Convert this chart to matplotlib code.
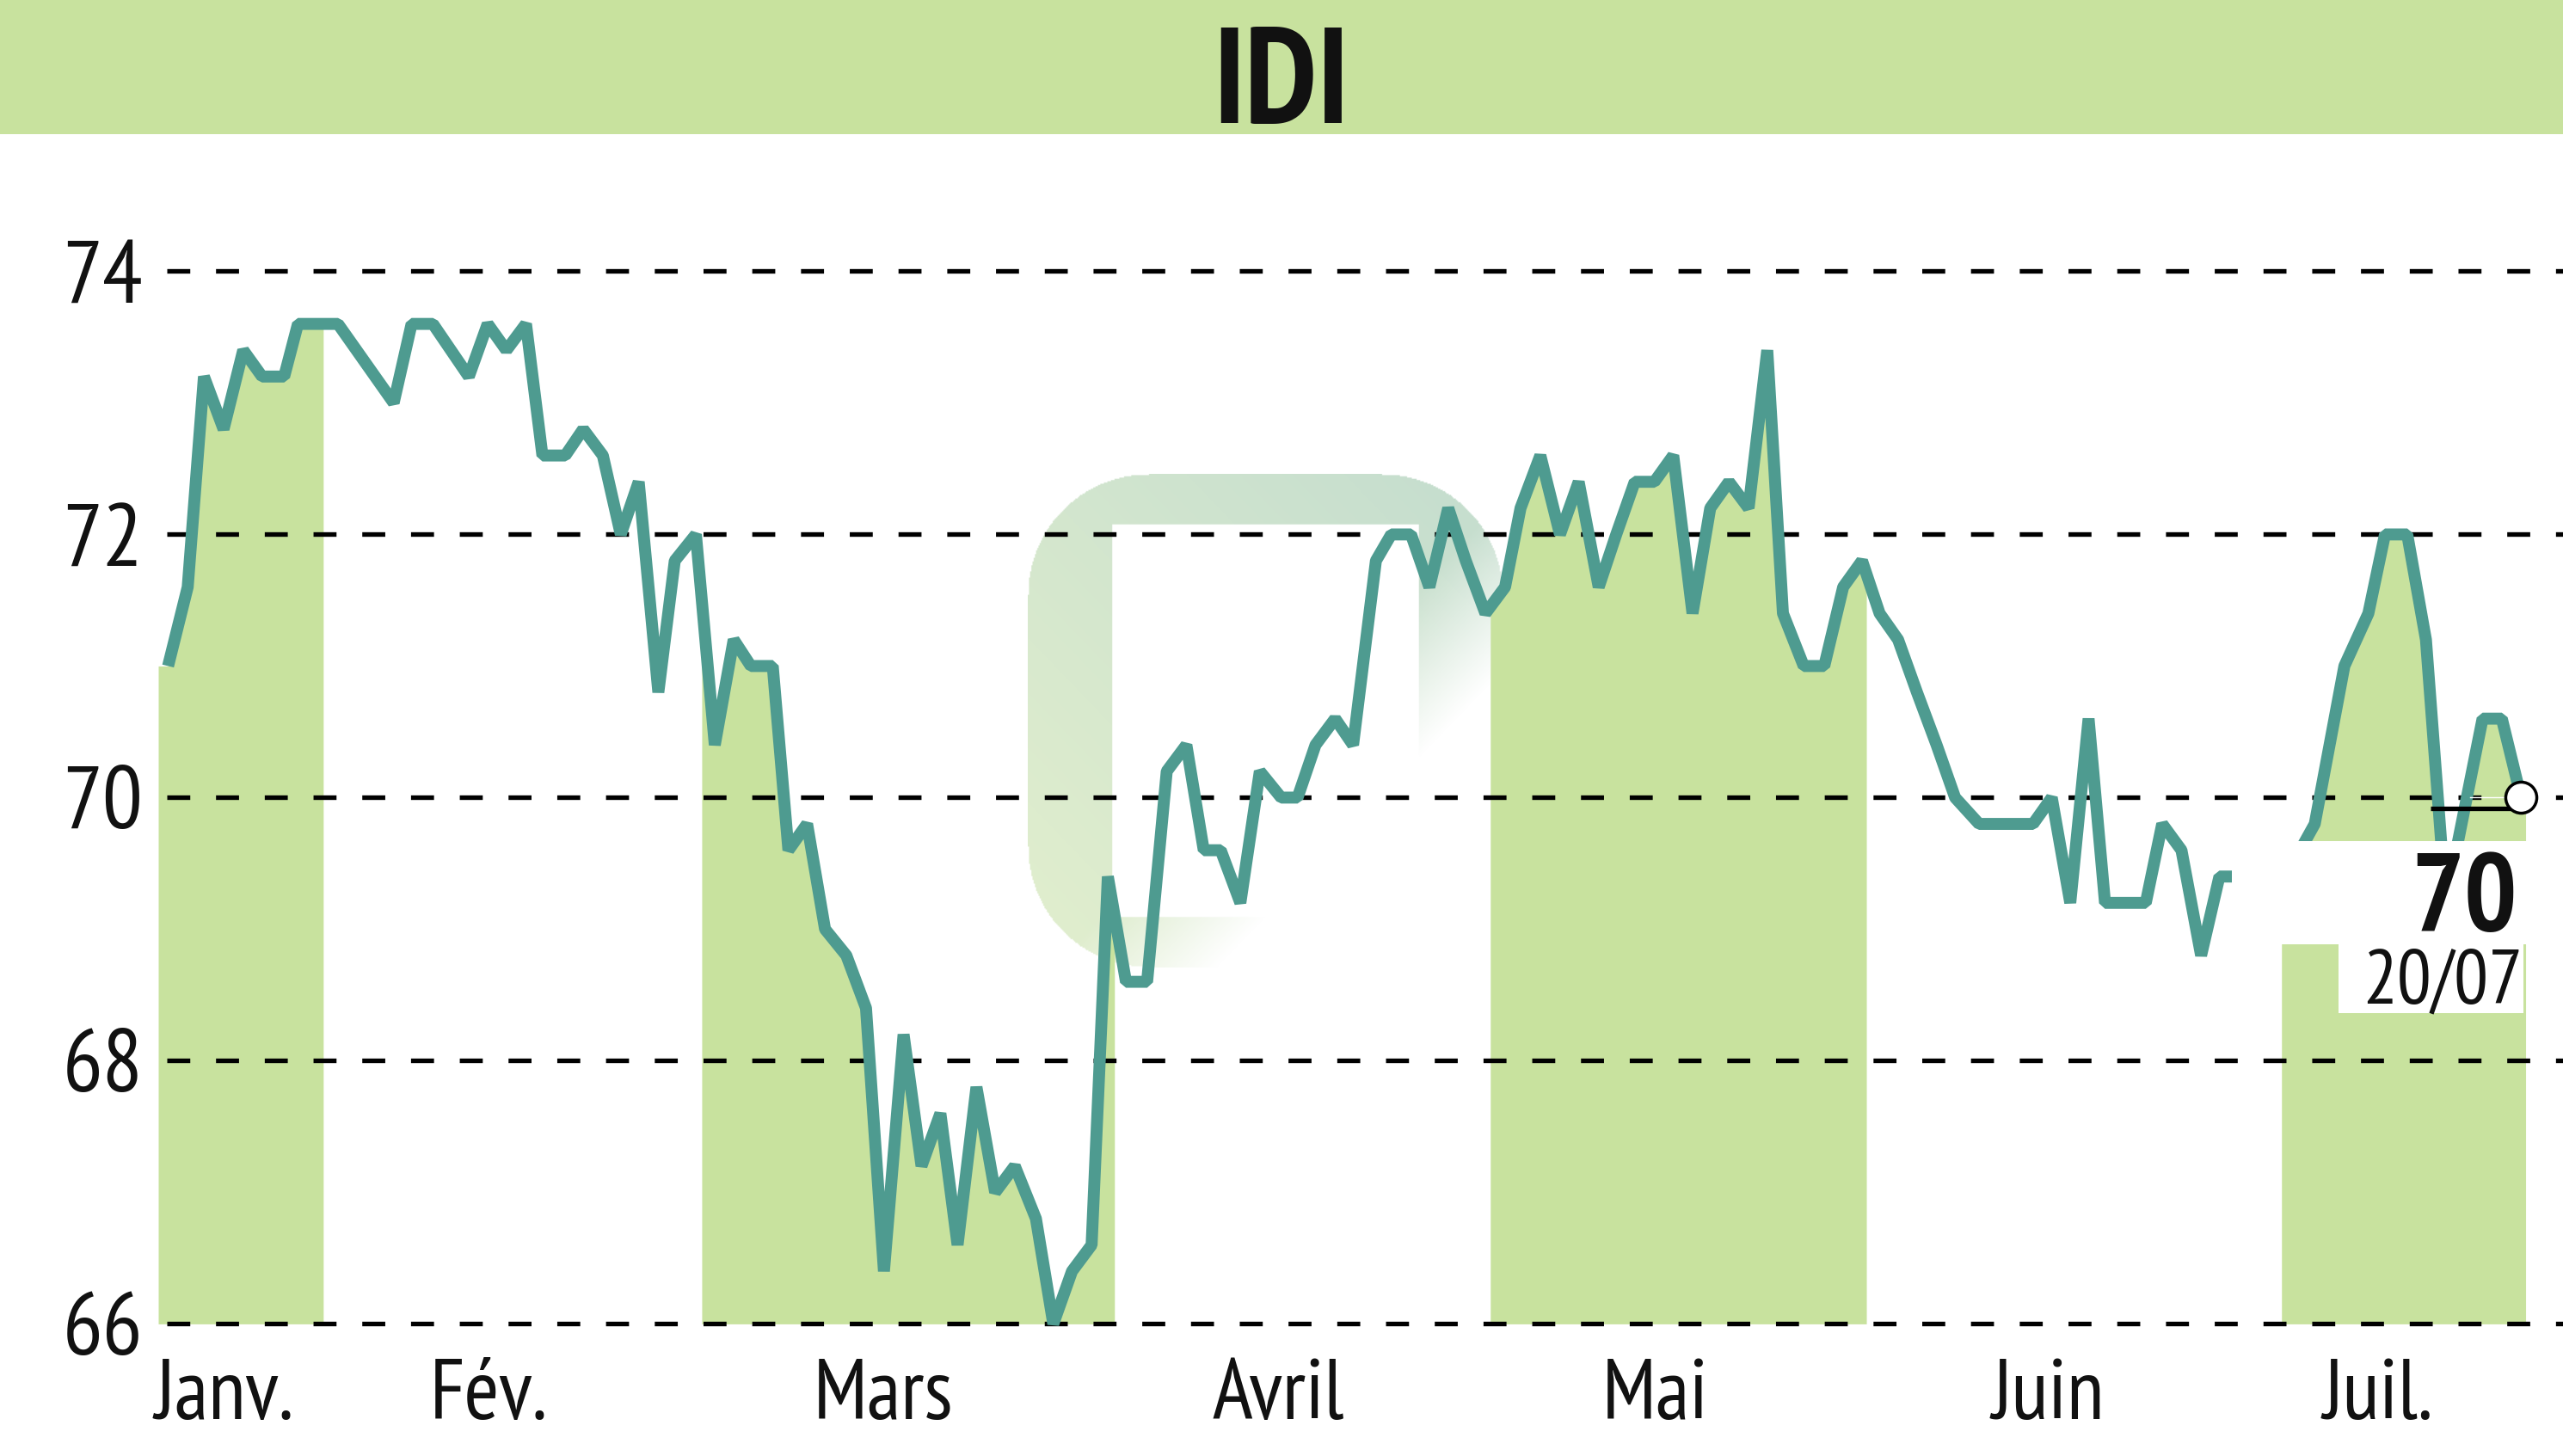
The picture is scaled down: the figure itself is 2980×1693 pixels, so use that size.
import numpy as np
import matplotlib
matplotlib.use("Agg")
import matplotlib.pyplot as plt
from matplotlib.patches import Rectangle
from matplotlib.colors import to_rgb
from matplotlib.transforms import blended_transform_factory as blend

plt.rcParams["font.family"] = ["PT Sans Narrow", "DejaVu Sans"]

# ---- data: trading-session position and closing price
SESSION = [0.52, 1.56, 2.42, 3.46, 4.50, 5.50, 6.67, 7.40, 9.52, 12.47, 13.42, 14.55,
           16.45, 17.45, 18.44, 19.48, 20.35, 21.56, 22.51, 23.55, 24.50, 25.45,
           26.49, 27.36, 28.48, 29.48, 30.48, 31.39, 32.55, 33.38, 34.37, 35.32,
           36.45, 37.49, 38.44, 39.48, 40.43, 41.43, 42.34, 43.34, 44.33, 45.37,
           46.49, 47.41, 48.40, 49.44, 50.30, 51.26, 52.38, 53.42, 54.46, 55.38,
           56.28, 57.32, 58.35, 59.48, 60.35, 61.30, 62.34, 63.29, 64.50, 65.31,
           66.36, 67.33, 68.33, 69.26, 70.30, 71.34, 72.16, 73.21, 74.25, 75.24,
           76.30, 77.23, 78.21, 79.25, 80.25, 81.27, 82.21, 83.20, 84.24, 85.23,
           86.06, 87.16, 88.25, 89.25, 90.25, 91.18, 92.16, 93.16, 94.20, 95.18,
           96.45, 97.40, 98.35, 99.31, 100.30, 101.28, 102.25, 103.12, 104.16, 105.28,
           106.15, 107.17, 108.21, 109.18, 110.20, 111.35, 112.30, 113.07, 114.23, 115.80,
           117.07, 117.95, 119.13, 120.12, 121.17, 123.12, 124.14, 125.16]
PRICE = [71.0, 71.6, 73.2, 72.8, 73.4, 73.2, 73.2, 73.6, 73.6, 73.0, 73.6, 73.6,
         73.2, 73.6, 73.4, 73.6, 72.6, 72.6, 72.8, 72.6, 72.0, 72.4,
         70.8, 71.8, 72.0, 70.4, 71.2, 71.0, 71.0, 69.6, 69.8, 69.0,
         68.8, 68.4, 66.4, 68.2, 67.2, 67.6, 66.6, 67.8, 67.0, 67.2,
         66.8, 66.0, 66.4, 66.6, 69.4, 68.6, 68.6, 70.2, 70.4, 69.6,
         69.6, 69.2, 70.2, 70.0, 70.0, 70.4, 70.6, 70.4, 71.8, 72.0,
         72.0, 71.6, 72.2, 71.8, 71.4, 71.6, 72.2, 72.6, 72.0, 72.4,
         71.6, 72.0, 72.4, 72.4, 72.6, 71.4, 72.2, 72.4, 72.2, 73.4,
         71.4, 71.0, 71.0, 71.6, 71.8, 71.4, 71.2, 70.8, 70.4, 70.0,
         69.8, 69.8, 69.8, 69.8, 70.0, 69.2, 70.6, 69.2, 69.2, 69.2,
         69.8, 69.6, 68.8, 69.4, 69.4, 69.2, 69.3, 69.5, 69.8, 71.0,
         71.4, 72.0, 72.0, 71.2, 69.2, 70.6, 70.6, 70.0]

MONTHS = ["Janv.", "Fév.", "Mars", "Avril", "Mai", "Juin", "Juil."]
MONTH_EDGES = [0, 8.74, 28.79, 50.65, 70.56, 90.48, 112.47, 125.4]
MONTH_LABEL_AT = [3.5, 17.5, 38.4, 59.35, 79.3, 100.1, 117.6]
YTICKS = [66, 68, 70, 72, 74]
TITLE = "IDI"
LAST_VALUE = "70"
LAST_DATE = "20/07"

GREEN = "#c8e29e"
TEAL = "#4e9b90"
INK = "#111111"

W_PX, H_PX = 2980, 1693
fig = plt.figure(figsize=(W_PX / 100, H_PX / 100), dpi=100)

# title band
band_h = 156 / H_PX
fig.add_artist(Rectangle((0, 1 - band_h), 1, band_h, transform=fig.transFigure,
                         fc=GREEN, ec="none"))
fig.text(0.5, 1 - 143 / H_PX, TITLE, ha="center", va="baseline",
         fontsize=113, fontweight="bold", color=INK)

# plot area (pixel frame of the reference)
AX_L, AX_R, AX_T, AX_B = 184, 2980, 160, 1570
ax = fig.add_axes([AX_L / W_PX, 1 - AX_B / H_PX, (AX_R - AX_L) / W_PX, (AX_B - AX_T) / H_PX])
ax.set_facecolor("white")

# faint watermark logo (rounded frame fading toward bottom-right)
LX0, LX1, LY0, LY1, LR = 1195, 1748, 551, 1125, 140
gx = np.linspace(LX0, LX1, 400)
gy = np.linspace(LY0, LY1, 400)
GX, GY = np.meshgrid(gx, gy)
dx = np.maximum(np.maximum(LX0 + LR - GX, GX - (LX1 - LR)), 0)
dy = np.maximum(np.maximum(LY0 + LR - GY, GY - (LY1 - LR)), 0)
outer = dx ** 2 + dy ** 2 <= LR ** 2
inner = (GX > 1293) & (GX < 1650) & (GY > 609) & (GY < 1067)
u = (GX - LX0) / (LX1 - LX0)
v = (GY - LY0) / (LY1 - LY0)
alpha = np.clip((1.4 - (u + v)) / 0.35, 0, 1) * (outer & ~inner)
t = np.clip((u - v + 1) / 2, 0, 1)[..., None]
c_tr, c_bl = np.array(to_rgb("#c4ddcf")), np.array(to_rgb("#e2efcd"))
img = np.dstack([c_bl + (c_tr - c_bl) * t, alpha])
fx = lambda X: (X - AX_L) / (AX_R - AX_L)
fy = lambda Y: (AX_B - Y) / (AX_B - AX_T)
ax.imshow(img, extent=[fx(LX0), fx(LX1), fy(LY1), fy(LY0)], transform=ax.transAxes,
          origin="upper", aspect="auto", interpolation="bilinear", zorder=1)

x = np.array(SESSION)
y = np.array(PRICE)

# shaded months (every other month), filled under the curve
for i in range(0, len(MONTHS), 2):
    a, b = MONTH_EDGES[i], MONTH_EDGES[i + 1]
    inside = (x > a) & (x < b)
    xs = np.concatenate([[a], x[inside], [b]])
    ax.fill_between(xs, np.interp(xs, x, y), YTICKS[0], color=GREEN, lw=0, zorder=2)

# dashed grid
ax.hlines(YTICKS, 0.45, 127.4, colors="black", lw=3.85,
          linestyles=[(0, (5.0, 5.6))], zorder=3)

# price line
ax.plot(x, y, color=TEAL, lw=10, solid_joinstyle="bevel", solid_capstyle="butt", zorder=4)

# label backgrounds
ax.add_patch(Rectangle((109.82, 68.886), 125.5 - 109.82, 69.67 - 68.886,
                       fc="white", ec="none", zorder=5))
ax.add_patch(Rectangle((115.5, 68.36), 125.3 - 115.5, 68.886 - 68.36,
                       fc="white", ec="none", zorder=5))
ax.text(124.95, 68.99, LAST_VALUE, ha="right", va="baseline", fontsize=93,
        fontweight="bold", color=INK, zorder=6)
ax.text(125.25, 68.44, LAST_DATE, ha="right", va="baseline", fontsize=64,
        color=INK, zorder=6)

# last value marker
ax.plot([120.37, x[-1]], [69.92, 69.92], color="black", lw=3.8,
        solid_capstyle="butt", zorder=7)
ax.plot([122.45, 124.5], [70.0, 70.0], color="white", lw=1, zorder=7)
ax.plot([x[-1]], [y[-1]], "o", ms=26, mfc="white", mec="black", mew=2.5, zorder=8)

# axes cosmetics
ax.set_xlim(0, 127.38)
ax.set_ylim(65.8, 75.016)
ax.set_xticks([])
ax.set_yticks(YTICKS)
ax.set_yticklabels([str(v) for v in YTICKS])
ax.tick_params(axis="y", length=0, pad=13, labelsize=75, labelcolor=INK)
for s in ax.spines.values():
    s.set_visible(False)

tr = blend(ax.transData, fig.transFigure)
for pos, lab in zip(MONTH_LABEL_AT, MONTHS):
    ax.text(pos, 1 - 1650 / H_PX, lab, transform=tr, ha="center", va="baseline",
            fontsize=71, color=INK)

fig.savefig("out.png", dpi=100)
